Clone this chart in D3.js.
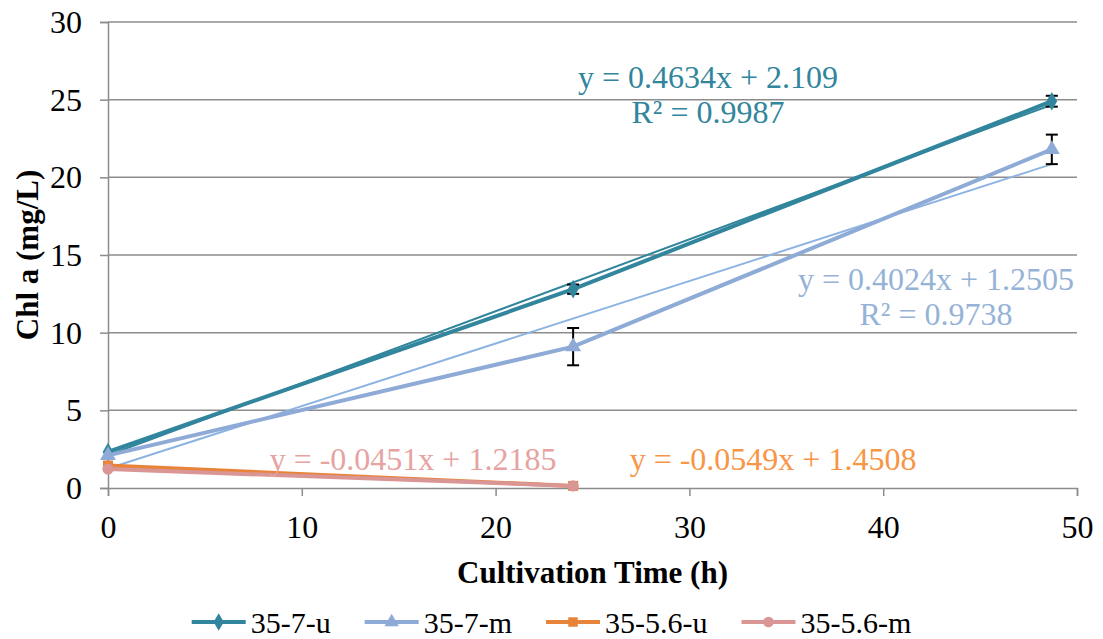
<!DOCTYPE html>
<html>
<head>
<meta charset="utf-8">
<script src="https://cdn.jsdelivr.net/npm/d3@7"></script>
<style>
  body { margin: 0; background: #fff; }
  text { font-family: "Liberation Serif", "Times New Roman", serif; }
</style>
</head>
<body>
<script>
// data
var seriesNames = ["35-7-u", "35-7-m", "35-5.6-u", "35-5.6-m"];
var timesLong = [0, 24, 48.7];
var timesShort = [0, 24];
var u7Values = [2.32, 12.8, 24.9];
var u7Errors = [0, 0.3, 0.35];
var m7Values = [2.1, 9.1, 21.8];
var m7Errors = [0, 1.2, 0.95];
var u56Values = [1.45, 0.133];
var m56Values = [1.22, 0.136];
var xTicks = [0, 10, 20, 30, 40, 50];
var yTicks = [0, 5, 10, 15, 20, 25, 30];
// trend lines: slope, intercept, end x
var trendSlopes = [0.4634, 0.4024, -0.0549, -0.0451];
var trendIntercepts = [2.109, 1.2505, 1.4508, 1.2185];
var trendEnds = [48.7, 48.7, 24, 24];
var trendLabels = ["y = 0.4634x + 2.109", "y = 0.4024x + 1.2505", "y = -0.0549x + 1.4508", "y = -0.0451x + 1.2185"];
var r2Labels = ["R² = 0.9987", "R² = 0.9738", null, null];

var width = 1103, height = 639;
var margins = {top: 22, left: 108, right: 26, bottom: 151};

var lineColors = ["#31859c", "#8eaad6", "#e8833a", "#d99694"];
var labelColors = ["#31859c", "#95b3d7", "#f79646", "#e6a3a1"];
var trendColors = ["#31859c", "#8db3e2", "#e8833a", "#d99694"];
var symbols = [d3.symbolDiamond, d3.symbolTriangle, d3.symbolSquare, d3.symbolCircle];

var series = [
    {x: timesLong, y: u7Values, err: u7Errors},
    {x: timesLong, y: m7Values, err: m7Errors},
    {x: timesShort, y: u56Values, err: null},
    {x: timesShort, y: m56Values, err: null}
];

var svg = d3.select("body").append("svg")
    .attr("width", width)
    .attr("height", height);

var x = d3.scaleLinear().domain([0, 50]).range([margins.left, width - margins.right]);
var y = d3.scaleLinear().domain([0, 30]).range([height - margins.bottom, margins.top]);

//网格线
svg.append("g").selectAll("line")
    .data(yTicks.filter(function (d) { return d > 0; }))
    .enter().append("line")
    .attr("x1", x(0)).attr("x2", x(50))
    .attr("y1", function (d) { return y(d); })
    .attr("y2", function (d) { return y(d); })
    .attr("stroke", "#8c8c8c")
    .attr("stroke-width", 1.5);

//坐标轴
var xAxis = d3.axisBottom(x).tickValues(xTicks).tickSize(8).tickPadding(19);
var yAxis = d3.axisLeft(y).tickValues(yTicks).tickSize(8).tickPadding(18);

var gx = svg.append("g")
    .attr("transform", "translate(0," + y(0) + ")")
    .call(xAxis);
var gy = svg.append("g")
    .attr("transform", "translate(" + x(0) + ",0)")
    .call(yAxis);

[gx, gy].forEach(function (g) {
    g.select(".domain").attr("stroke", "#8c8c8c").attr("stroke-width", 1.5);
    g.selectAll(".tick line").attr("stroke", "#8c8c8c").attr("stroke-width", 1.5);
    g.selectAll(".tick text")
        .style("font-family", "'Liberation Serif', 'Times New Roman', serif")
        .style("font-size", "32px")
        .attr("fill", "#000");
});
gx.selectAll(".tick text").attr("dy", "0.71em");
gy.selectAll(".tick text").attr("dy", "0.33em");

//轴标题
svg.append("text")
    .attr("x", (x(0) + x(50)) / 2)
    .attr("y", 583)
    .attr("text-anchor", "middle")
    .attr("font-size", "31px")
    .attr("font-weight", "bold")
    .text("Cultivation Time (h)");

svg.append("text")
    .attr("transform", "translate(38," + y(15) + ") rotate(-90)")
    .attr("text-anchor", "middle")
    .attr("font-size", "31px")
    .attr("font-weight", "bold")
    .text("Chl a (mg/L)");

//趋势线
var trendG = svg.append("g");
trendSlopes.forEach(function (s, i) {
    var x1 = 0, x2 = trendEnds[i];
    trendG.append("line")
        .attr("x1", x(x1)).attr("y1", y(trendIntercepts[i] + s * x1))
        .attr("x2", x(x2)).attr("y2", y(trendIntercepts[i] + s * x2))
        .attr("stroke", trendColors[i])
        .attr("stroke-width", 2);
});

//数据线
var line = d3.line()
    .x(function (d) { return x(d[0]); })
    .y(function (d) { return y(d[1]); });

series.forEach(function (s, i) {
    var pts = s.x.map(function (t, j) { return [t, s.y[j]]; });
    var g = svg.append("g");
    g.append("path")
        .datum(pts)
        .attr("d", line)
        .attr("fill", "none")
        .attr("stroke", lineColors[i])
        .attr("stroke-width", 4);

    //误差线
    if (s.err) {
        var eb = g.append("g");
        pts.forEach(function (p, j) {
            var e = s.err[j];
            if (!e) return;
            var cx = x(p[0]);
            eb.append("line")
                .attr("x1", cx).attr("x2", cx)
                .attr("y1", y(p[1] + e)).attr("y2", y(p[1] - e))
                .attr("stroke", "#000").attr("stroke-width", 2);
            [p[1] + e, p[1] - e].forEach(function (v) {
                eb.append("line")
                    .attr("x1", cx - 6).attr("x2", cx + 6)
                    .attr("y1", y(v)).attr("y2", y(v))
                    .attr("stroke", "#000").attr("stroke-width", 2);
            });
        });
    }

    g.selectAll("path.mark")
        .data(pts)
        .enter().append("path")
        .attr("class", "mark")
        .attr("transform", function (d) { return "translate(" + x(d[0]) + "," + y(d[1]) + ")"; })
        .attr("d", d3.symbol().type(symbols[i]).size(i == 1 ? 110 : 100))
        .attr("fill", lineColors[i]);
});

//趋势方程标签
var labelPos = [
    {x: 708, y: 88, anchor: "middle"},
    {x: 936, y: 290, anchor: "middle"},
    {x: 773, y: 470, anchor: "middle"},
    {x: 413, y: 470, anchor: "middle"}
];
trendLabels.forEach(function (t, i) {
    svg.append("text")
        .attr("x", labelPos[i].x)
        .attr("y", labelPos[i].y)
        .attr("text-anchor", labelPos[i].anchor)
        .attr("font-size", "32px")
        .attr("fill", labelColors[i])
        .text(t);
    if (r2Labels[i]) {
        svg.append("text")
            .attr("x", labelPos[i].x)
            .attr("y", labelPos[i].y + 35)
            .attr("text-anchor", labelPos[i].anchor)
            .attr("font-size", "32px")
            .attr("fill", labelColors[i])
            .text(r2Labels[i]);
    }
});

//图例
var legendG = svg.append("g");
var lx = 0, legendY = 622;
seriesNames.forEach(function (name, i) {
    var item = legendG.append("g").attr("transform", "translate(" + lx + ",0)");
    item.append("line")
        .attr("x1", 0).attr("x2", 54)
        .attr("y1", legendY).attr("y2", legendY)
        .attr("stroke", lineColors[i]).attr("stroke-width", 4);
    item.append("path")
        .attr("transform", "translate(27," + legendY + ")")
        .attr("d", d3.symbol().type(symbols[i]).size(90))
        .attr("fill", lineColors[i]);
    var txt = item.append("text")
        .attr("x", 59)
        .attr("y", legendY + 11)
        .attr("font-size", "30px")
        .text(name);
    lx += 59 + txt.node().getComputedTextLength() + 34;
});
var legendW = lx - 34;
legendG.attr("transform", "translate(" + ((width - legendW) / 2) + ",0)");
</script>
</body>
</html>
